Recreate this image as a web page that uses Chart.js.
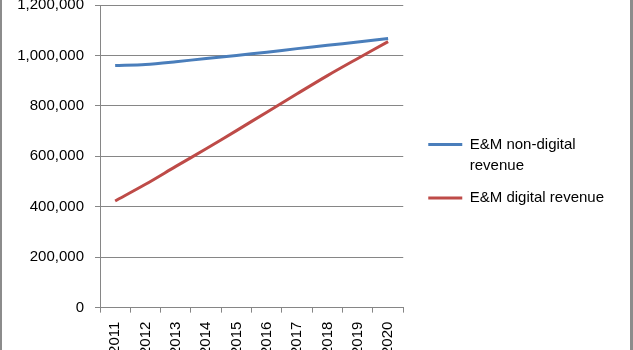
<!DOCTYPE html>
<html>
<head>
<meta charset="utf-8">
<script src="https://cdn.jsdelivr.net/npm/chart.js@4"></script>
<style>
  html, body { margin: 0; padding: 0; background: #fff; }
  #wrap {
    position: relative; width: 633px; height: 350px; overflow: hidden;
    box-sizing: border-box; border-left: 2px solid #8c8c8c; border-right: 3px solid #8c8c8c;
  }
  #box { position: absolute; left: 0; top: -15px; width: 628px; height: 391px; }
</style>
</head>
<body>
<div id="wrap"><div id="box"><canvas id="line-chart"></canvas></div></div>
<script>
// years on the x axis
var years = ['2011', '2012', '2013', '2014', '2015', '2016', '2017', '2018', '2019', '2020'];
// revenue values
var nonDigital = [960000, 964000, 975000, 988000, 1000000, 1013000, 1027000, 1040000, 1053000, 1067000];
var digital = [423000, 489000, 560000, 630000, 702000, 775000, 848000, 920000, 988000, 1055000];
var seriesNames = [['E&M non-digital', 'revenue'], ['E&M digital revenue']];

var font = { family: '"Liberation Sans", Arial, sans-serif', size: 15 };
var gray = '#868686';

new Chart(document.getElementById('line-chart'), {
    type: 'line',
    data: {
        labels: years,
        datasets: [{
            label: 'E&M non-digital revenue',
            data: nonDigital,
            borderColor: '#4a7ebb',
            borderWidth: 3,
            pointRadius: 0,
            tension: 0.3,
            fill: false
        }, {
            label: 'E&M digital revenue',
            data: digital,
            borderColor: '#be4b48',
            borderWidth: 3,
            pointRadius: 0,
            tension: 0.3,
            fill: false
        }]
    },
    options: {
        responsive: true,
        maintainAspectRatio: false,
        animation: false,
        layout: { padding: { left: 0, right: 16, top: 0, bottom: 12 } },
        plugins: {
            tooltip: { enabled: false },
            legend: {
                position: 'right',
                maxWidth: 300,
                labels: {
                    color: '#000',
                    font: { family: font.family, size: 15, lineHeight: 1.45 },
                    boxWidth: 34,
                    boxHeight: 3,
                    padding: 10,
                    generateLabels: function (chart) {
                        return chart.data.datasets.map(function (ds, i) {
                            return {
                                text: seriesNames[i],
                                fillStyle: ds.borderColor,
                                strokeStyle: ds.borderColor,
                                lineWidth: 0,
                                datasetIndex: i
                            };
                        });
                    }
                }
            }
        },
        scales: {
            x: {
                offset: true,
                grid: { display: true, drawOnChartArea: false, offset: true, color: gray, tickLength: 5 },
                border: { color: gray },
                ticks: { color: '#000', font: font, minRotation: 90, maxRotation: 90, padding: 9, autoSkip: false }
            },
            y: {
                min: 0,
                max: 1200000,
                grid: { color: gray, tickLength: 5 },
                border: { color: gray },
                ticks: {
                    stepSize: 200000,
                    color: '#000',
                    font: font,
                    padding: 11,
                    callback: function (v) { return v.toLocaleString('en-US'); }
                },
                afterFit: function (s) { s.width = 98; }
            },
            gap: {
                type: 'linear',
                position: 'right',
                grid: { display: false },
                border: { display: false },
                ticks: { display: false },
                afterFit: function (s) { s.width = 15; }
            }
        }
    }
});
</script>
</body>
</html>
